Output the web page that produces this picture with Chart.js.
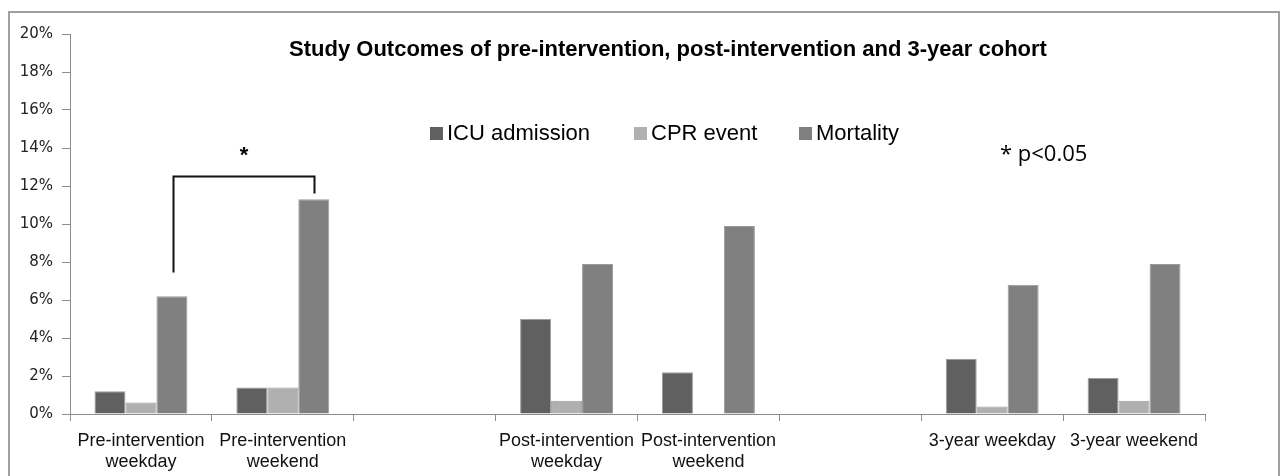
<!DOCTYPE html>
<html>
<head>
<meta charset="utf-8">
<script src="https://cdn.jsdelivr.net/npm/chart.js@4/dist/chart.umd.min.js"></script>
<style>
  html, body { margin: 0; padding: 0; background: #fff; }
  #wrap { width: 1282px; height: 476px; position: relative; }
</style>
</head>
<body>
<div id="wrap"><canvas id="outcomes" width="1282" height="476"></canvas></div>
<script>
// ---- data (percent) ----
const categories = [
  ["Pre-intervention", "weekday"],
  ["Pre-intervention", "weekend"],
  "",
  ["Post-intervention", "weekday"],
  ["Post-intervention", "weekend"],
  "",
  "3-year weekday",
  "3-year weekend"
];
const icuAdmission = [1.2, 1.4, null, 5.0, 2.2, null, 2.9, 1.9];
const cprEvent     = [0.6, 1.4, null, 0.7, 0.0, null, 0.4, 0.7];
const mortality    = [6.2, 11.3, null, 7.9, 9.9, null, 6.8, 7.9];
const seriesNames  = ["ICU admission", "CPR event", "Mortality"];
const seriesColors = ["#606060", "#b0b0b0", "#808080"];

const chartTitle = "Study Outcomes of pre-intervention, post-intervention and 3-year cohort";
const noteText = "* p<0.05";

// frame, title, legend, significance bracket
const extras = {
  id: "extras",
  beforeDraw(chart) {
    const ctx = chart.ctx;
    ctx.save();
    ctx.strokeStyle = "#a0a0a0";
    ctx.lineWidth = 2;
    ctx.beginPath();
    ctx.moveTo(9, 480);
    ctx.lineTo(9, 12);
    ctx.lineTo(1279, 12);
    ctx.lineTo(1279, 480);
    ctx.stroke();
    ctx.restore();
  },
  afterDraw(chart) {
    const ctx = chart.ctx;
    const y = chart.scales.y;
    ctx.save();

    // title
    ctx.fillStyle = "#000";
    ctx.font = "bold 22px 'Liberation Sans', Arial, sans-serif";
    ctx.textAlign = "center";
    ctx.textBaseline = "alphabetic";
    ctx.fillText(chartTitle, 668, 56);

    // legend
    ctx.font = "22px 'Liberation Sans', Arial, sans-serif";
    ctx.textAlign = "left";
    const legendX = [430, 634, 799];
    seriesNames.forEach((name, i) => {
      ctx.fillStyle = seriesColors[i];
      ctx.fillRect(legendX[i], 127, 13, 13);
      ctx.fillStyle = "#000";
      ctx.fillText(name, legendX[i] + 17, 140);
    });

    // p-value note
    ctx.font = "22px 'Open Sans', 'Liberation Sans', sans-serif";
    ctx.fillText(noteText, 1000, 161);

    // bracket between the two pre-intervention mortality bars
    const meta = chart.getDatasetMeta(2);
    const x0 = Math.round(meta.data[0].x) + 1.5;
    const x1 = Math.round(meta.data[1].x) + 0.5;
    ctx.strokeStyle = "#111";
    ctx.lineWidth = 2;
    ctx.beginPath();
    ctx.moveTo(x0, y.getPixelForValue(7.45));
    ctx.lineTo(x0, y.getPixelForValue(12.5));
    ctx.lineTo(x1, y.getPixelForValue(12.5));
    ctx.lineTo(x1, y.getPixelForValue(11.6));
    ctx.stroke();

    ctx.fillStyle = "#000";
    ctx.font = "bold 22px 'Liberation Sans', Arial, sans-serif";
    ctx.textAlign = "center";
    ctx.fillText("*", (x0 + x1) / 2, y.getPixelForValue(13.25));
    ctx.restore();
  }
};

const mk = (i, data) => ({
  label: seriesNames[i],
  data,
  backgroundColor: seriesColors[i],
  borderColor: "#9c9c9c",
  borderWidth: 1,
  categoryPercentage: 0.655,
  barPercentage: 1.0
});

new Chart(document.getElementById("outcomes"), {
  type: "bar",
  data: {
    labels: categories,
    datasets: [
      mk(0, icuAdmission),
      mk(1, cprEvent),
      mk(2, mortality)
    ]
  },
  options: {
    responsive: false,
    animation: false,
    layout: { padding: { top: 34, right: 77, left: 0, bottom: 0 } },
    plugins: {
      legend: { display: false },
      title: { display: false },
      tooltip: { enabled: false }
    },
    scales: {
      x: {
        grid: {
          offset: true,
          drawOnChartArea: false,
          drawTicks: true,
          tickLength: 7,
          color: "#8c8c8c",
          lineWidth: 1
        },
        border: { color: "#8c8c8c", width: 1 },
        ticks: {
          color: "#111",
          font: { family: "'Liberation Sans', Arial, sans-serif", size: 18, lineHeight: 1.2 },
          padding: 9,
          maxRotation: 0,
          autoSkip: false
        },
        afterFit: s => { s.height = 62; }
      },
      y: {
        min: 0,
        max: 20,
        grid: {
          drawOnChartArea: false,
          drawTicks: true,
          tickLength: 8,
          color: "#8c8c8c"
        },
        border: { color: "#8c8c8c", width: 1 },
        ticks: {
          stepSize: 2,
          color: "#222",
          padding: 9,
          font: { family: "'DejaVu Sans', Verdana, sans-serif", size: 15 },
          callback: v => v + "%"
        },
        afterFit: s => { s.width = 70; }
      }
    }
  },
  plugins: [extras]
});
</script>
</body>
</html>
